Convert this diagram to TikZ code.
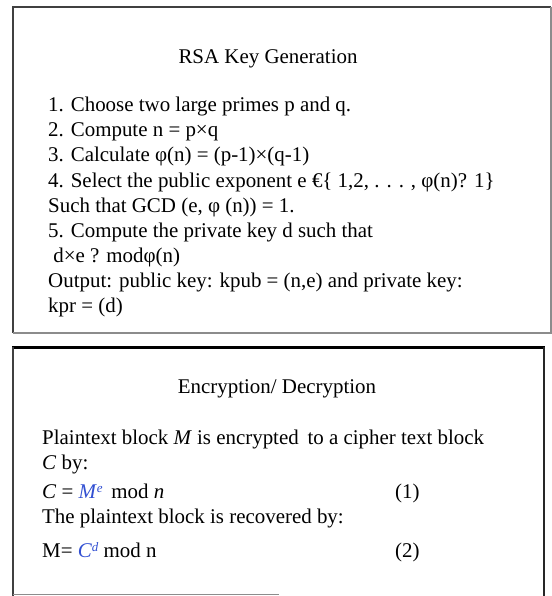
\documentclass[tikz,border=0pt]{standalone}
\usepackage{fontspec}
\setmainfont{Liberation Serif}
\definecolor{framedark}{gray}{0.25}
\definecolor{framegray}{gray}{0.55}
\definecolor{eqblue}{RGB}{50,80,210}
\begin{document}
\begin{tikzpicture}[x=1bp,y=-1bp,
  txt/.style={anchor=base west, inner sep=0pt, font=\fontsize{21}{25}\selectfont},
  ttl/.style={anchor=base, inner sep=0pt, font=\fontsize{21}{25}\selectfont}]
\useasboundingbox (0,0) rectangle (552,596);
% top frame
\draw[framedark, line width=2.2bp] (551,7) -- (13,7) -- (13,333);
\draw[framegray, line width=1.4bp] (551,7) -- (551,333) -- (13,333);
% bottom frame
\draw[black, line width=3bp] (12,347) -- (545,347);
\draw[framedark, line width=2bp] (13,347) -- (13,596);
\draw[black!85, line width=2.6bp] (544,347) -- (544,596);
\draw[framegray, line width=1bp] (13,594) -- (279,594);
% top box text
\node[ttl] (t1) at (268,64) {RSA Key Generation};
\node[txt] (l1) at (48,112) {1. Choose two large primes p and q.};
\node[txt] (l2) at (48,137) {2. Compute n = p×q};
\node[txt] (l3) at (48,162) {3. Calculate φ(n) = (p-1)×(q-1)};
\node[txt] (l4) at (48,187) {4. Select the public exponent e €\{ 1,2, . . . , φ(n)? 1\}};
\node[txt] (l5) at (48,212) {Such that GCD (e, φ (n)) = 1.};
\node[txt] (l6) at (48,237) {5. Compute the private key d such that};
\node[txt] (l7) at (48,262) {\ d×e ? modφ(n)};
\node[txt] (l8) at (48,287) {Output: public key: kpub = (n,e) and private key:};
\node[txt] (l9) at (48,312) {kpr = (d)};
% bottom box text
\node[ttl] (t2) at (277,393) {Encryption/ Decryption};
\node[txt] (m1) at (42,444) {Plaintext block \textit{M} is encrypted\, to a cipher text block};
\node[txt] (m2) at (42,469) {\textit{C} by:};
\node[txt] (m3) at (42,498) {\textit{C} = {\color{eqblue}\textit{M}\raisebox{0.55ex}{\fontsize{13}{13}\selectfont\textit{e}}}\, mod \textit{n}};
\node[txt] (n1) at (395,498) {(1)};
\node[txt] (m4) at (42,523) {The plaintext block is recovered by:};
\node[txt] (m5) at (42,557) {M= {\color{eqblue}\textit{C}\raisebox{0.6ex}{\fontsize{13}{13}\selectfont\textit{d}}} mod n};
\node[txt] (n2) at (395,557) {(2)};
\end{tikzpicture}
\end{document}
